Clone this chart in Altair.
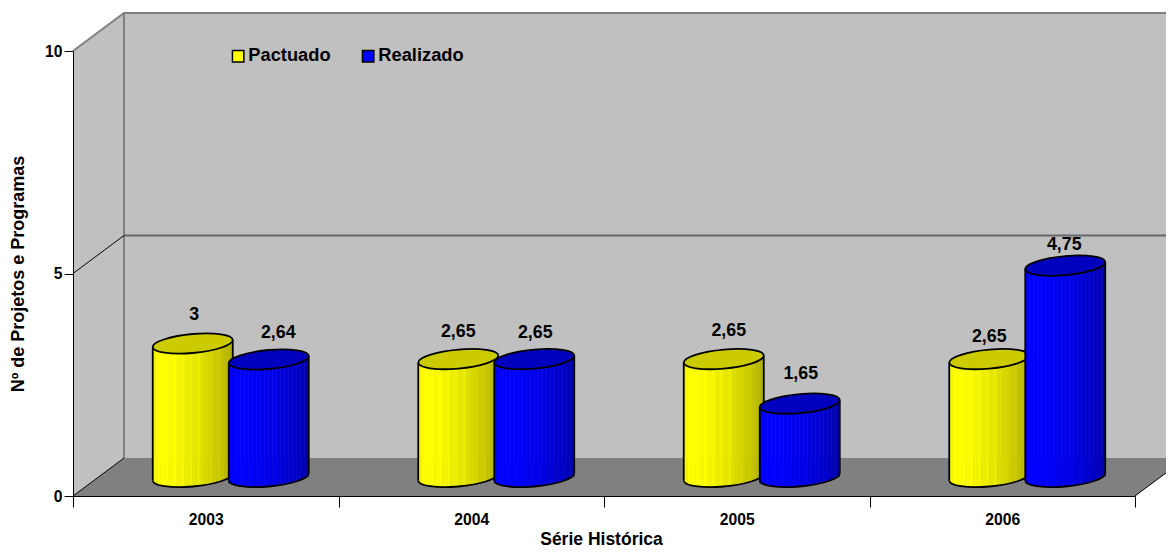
import altair as alt

ANOS = ["2003", "2004", "2005", "2006"]
SERIES = ["Pactuado", "Realizado"]
PACTUADO = [3, 2.65, 2.65, 2.65]
REALIZADO = [2.64, 2.65, 1.65, 4.75]
FONT = "Liberation Sans"

rows = []
for a, v in zip(ANOS, PACTUADO):
    rows.append({"ano": a, "serie": "Pactuado", "valor": v, "rotulo": str(v).replace(".", ",")})
for a, v in zip(ANOS, REALIZADO):
    rows.append({"ano": a, "serie": "Realizado", "valor": v, "rotulo": str(v).replace(".", ",")})
data = alt.Data(values=rows)

X_SCALE = alt.Scale(domain=ANOS, paddingInner=0, paddingOuter=0)
Y_SCALE = alt.Scale(domain=[0, 10], nice=False)
X_AXIS = alt.Axis(
    labelAngle=0, tickBand="extent", tickSize=11, tickColor="#000000",
    domainColor="#000000", labelFont=FONT, labelFontSize=15.7,
    labelFontWeight="bold", labelColor="#000000", labelPadding=5,
    titleFont=FONT, titleFontSize=17.5, titleFontWeight="bold",
    titleColor="#000000", titlePadding=4, titleX=528, grid=False, zindex=1,
)
Y_AXIS = alt.Axis(
    values=[0, 5, 10], tickSize=9, tickColor="#000000",
    domainColor="#000000", labelFont=FONT, labelFontSize=15.7,
    labelFontWeight="bold", labelColor="#000000", labelPadding=2,
    titleFont=FONT, titleFontSize=18, titleFontWeight="bold",
    titleColor="#000000", titlePadding=17, grid=False, zindex=1,
)
X_TITLE = "Série Histórica"
Y_TITLE = "Nº de Projetos e Programas"
X_PLAIN = alt.X("ano:N", scale=X_SCALE, title=X_TITLE, axis=X_AXIS)
Y_PLAIN = alt.Y("valor:Q", scale=Y_SCALE, title=Y_TITLE, axis=Y_AXIS)

# --- 3-D decoration of the chart frame (offset from the plot origin)
DX, DY = 51, -38
W, H = 1062, 445
YM = H / 2
EXTRA = 60


def deco(path, **kw):
    return alt.Chart(alt.Data(values=[{"k": 1}])).mark_point(
        shape=path, size=4, filled=kw.pop("filled", True), opacity=1, **kw
    ).encode(x=alt.value(0), y=alt.value(0))


left_wall = f"M0,0 L{DX},{DY} L{DX},{H+DY} L0,{H} Z"
back_wall = f"M{DX},{DY} L{W+EXTRA},{DY} L{W+EXTRA},{H+DY} L{DX},{H+DY} Z"
floor = f"M0,{H} L{W},{H} L{W+DX},{H+DY} L{DX},{H+DY} Z"

layers = [
    deco(left_wall, fill="#C0C0C0"),
    deco(back_wall, fill="#C0C0C0"),
    deco(floor, fill="#808080"),
    deco(f"M0,0 L{DX},{DY} L{W+EXTRA},{DY}", filled=False, stroke="#808080", strokeWidth=2),
    deco(f"M{DX},{DY} L{DX},{H+DY}", filled=False, stroke="#808080", strokeWidth=2),
    deco(f"M0,{YM} L{DX},{YM+DY}", filled=False, stroke="#000000", strokeWidth=1),
    deco(f"M{DX},{YM+DY} L{W+EXTRA},{YM+DY}", filled=False, stroke="#666666", strokeWidth=2),
    deco(f"M{W},{H} L{W+DX},{H+DY}", filled=False, stroke="#000000", strokeWidth=1),
    deco(f"M0,{H} L{DX},{H+DY}", filled=False, stroke="#000000", strokeWidth=1),
]

# --- cylinders
RX, RY, TILT = 40, 9.5, 3.5
LIFT = -19
K = 0.5523
STRIPS = 20
SW = 2 * RX / STRIPS
SHADE = [0.97, 1.0, 1.0, 1.0, 0.98, 1.0, 0.96, 0.97, 0.93, 0.94,
         0.90, 0.92, 0.87, 0.85, 0.84, 0.80, 0.80, 0.76, 0.73, 0.70]
CENTER = {"Pactuado": -13, "Realizado": 63}
TOP_FILL = {"Pactuado": "#CBCB00", "Realizado": "#0000BE"}
OUTLINE = 1.8


def strip_color(serie, s):
    v = int(round(255 * s))
    return f"#{v:02x}{v:02x}00" if serie == "Pactuado" else f"#0000{v:02x}"


def sh(x, y):
    return x, y - TILT * x / RX


def pt(x, y):
    a, b = sh(x, y)
    return f"{a:.2f},{b:.2f}"


ellipse = ("M" + pt(-RX, 0)
           + " C" + pt(-RX, -K * RY) + " " + pt(-K * RX, -RY) + " " + pt(0, -RY)
           + " C" + pt(K * RX, -RY) + " " + pt(RX, -K * RY) + " " + pt(RX, 0)
           + " C" + pt(RX, K * RY) + " " + pt(K * RX, RY) + " " + pt(0, RY)
           + " C" + pt(-K * RX, RY) + " " + pt(-RX, K * RY) + " " + pt(-RX, 0) + " Z")
lower = ("M" + pt(-RX, 0)
         + " C" + pt(-RX, K * RY) + " " + pt(-K * RX, RY) + " " + pt(0, RY)
         + " C" + pt(K * RX, RY) + " " + pt(RX, K * RY) + " " + pt(RX, 0))

for serie in SERIES:
    cx = CENTER[serie]
    base = alt.Chart(data).transform_filter(alt.datum.serie == serie)
    for i, s in enumerate(SHADE):
        u = (i + 0.5) / STRIPS * 2 - 1
        tilt = -TILT * u
        low = RY * (1 - u * u) ** 0.5
        layers.append(
            base.mark_bar(
                width=SW + 0.3,
                color=strip_color(serie, s),
                xOffset=cx + u * RX,
                yOffset=LIFT + tilt,
                y2Offset=LIFT + tilt + low,
            ).encode(x=X_PLAIN, y=Y_PLAIN, y2=alt.datum(0))
        )
    for side in (-1, 1):
        layers.append(
            base.mark_rule(
                color="#000000", strokeWidth=OUTLINE,
                xOffset=cx + side * RX,
                yOffset=LIFT - side * TILT,
                y2Offset=LIFT - side * TILT,
            ).encode(x=X_PLAIN, y=Y_PLAIN, y2=alt.datum(0))
        )
    layers.append(
        base.mark_point(
            shape=lower, size=4, filled=False, stroke="#000000", strokeWidth=OUTLINE,
            opacity=1, xOffset=cx, yOffset=LIFT,
        ).encode(x=X_PLAIN, y=alt.Y(datum=0, scale=Y_SCALE, axis=Y_AXIS, title=Y_TITLE))
    )
    layers.append(
        base.mark_point(
            shape=ellipse, size=4, filled=True, fill=TOP_FILL[serie], stroke="#000000",
            strokeWidth=OUTLINE, opacity=1, xOffset=cx, yOffset=LIFT,
        ).encode(x=X_PLAIN, y=Y_PLAIN)
    )

# --- value labels
NUDGE = {
    ("2003", "Pactuado"): (-11.5, -47.5), ("2003", "Realizado"): (72.5, -45.5),
    ("2004", "Pactuado"): (-13, -46), ("2004", "Realizado"): (64, -45),
    ("2005", "Pactuado"): (-8, -47), ("2005", "Realizado"): (64, -48.6),
    ("2006", "Pactuado"): (-13, -41), ("2006", "Realizado"): (62, -39.6),
}
for r in rows:
    dx, dy = NUDGE[(r["ano"], r["serie"])]
    layers.append(
        alt.Chart(alt.Data(values=[r])).mark_text(
            font=FONT, fontSize=17.8, fontWeight="bold", color="#000000",
            dx=dx, dy=dy, baseline="middle", align="center",
        ).encode(x=X_PLAIN, y=Y_PLAIN, text="rotulo:N")
    )

# --- legend carrier
layers.append(
    alt.Chart(data).mark_square(size=0, opacity=1).encode(
        x=X_PLAIN,
        y=Y_PLAIN,
        color=alt.Color(
            "serie:N",
            scale=alt.Scale(domain=SERIES, range=["#FFFF00", "#0000FF"]),
            legend=alt.Legend(
                orient="none", legendX=156, legendY=-4, direction="horizontal", title=None,
                symbolType="square", symbolSize=130, symbolStrokeColor="#000000",
                symbolStrokeWidth=1.5, symbolOpacity=1, labelFont=FONT, labelFontSize=18.3,
                labelFontWeight="bold", labelColor="#000000", labelOffset=1,
                columnPadding=28, labelLimit=200,
            ),
        ),
    )
)

chart = alt.layer(*layers).properties(
    width=W, height=H,
    autosize=alt.AutoSizeParams(type="none"),
    padding={"left": 65, "top": 43, "right": 31, "bottom": 53},
    background="#FFFFFF",
).configure_view(stroke=None)

chart.save("out.html", embed_options={"renderer": "svg", "actions": False})
